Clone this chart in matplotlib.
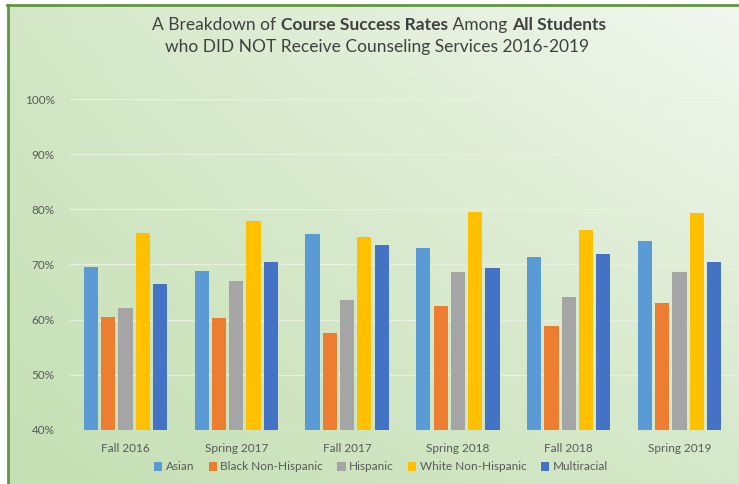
import numpy as np
import matplotlib
matplotlib.use("Agg")
import matplotlib.pyplot as plt
from matplotlib.lines import Line2D

categories = ["Fall 2016", "Spring 2017", "Fall 2017", "Spring 2018", "Fall 2018", "Spring 2019"]
series_names = ["Asian", "Black Non-Hispanic", "Hispanic", "White Non-Hispanic", "Multiracial"]
asian = [69.6, 68.9, 75.5, 73.0, 71.3, 74.2]
black = [60.4, 60.3, 57.5, 62.4, 58.9, 63.1]
hispanic = [62.1, 67.0, 63.5, 68.7, 64.1, 68.7]
white = [75.8, 77.8, 75.0, 79.5, 76.2, 79.3]
multiracial = [66.5, 70.4, 73.6, 69.4, 71.9, 70.4]
yticks = [40, 50, 60, 70, 80, 90, 100]

colors = ["#5B9BD5", "#ED7D31", "#A5A5A5", "#FFC000", "#4472C4"]
series = [asian, black, hispanic, white, multiracial]

FONT = "Lato"
plt.rcParams['font.family'] = [FONT, 'DejaVu Sans']

W, H = 739, 484
fig = plt.figure(figsize=(W / 100, H / 100), dpi=100)
fig.patch.set_facecolor("white")

# background gradient
bg = fig.add_axes([8 / W, 0, 1 - 8 / W, 1 - 5 / H])
bg.set_axis_off()
tl = np.array([0xd3, 0xe7, 0xc6]) / 255
tr = np.array([0xf2, 0xf7, 0xef]) / 255
bl = np.array([0xc5, 0xe0, 0xb4]) / 255
br = np.array([0xd5, 0xe8, 0xc9]) / 255
ny, nx = 60, 80
yy = np.linspace(0, 1, ny)[:, None, None]
xx = np.linspace(0, 1, nx)[None, :, None]
img = (1 - yy) * ((1 - xx) * tl + xx * tr) + yy * ((1 - xx) * bl + xx * br)
bg.imshow(img, aspect='auto', extent=[0, 1, 0, 1], interpolation='bilinear')
bg.set_xlim(0, 1)
bg.set_ylim(0, 1)

# border lines (left and top)
fig.add_artist(Line2D([8 / W, 8 / W], [0, 1 - 4.5 / H], color="#5f9641", lw=2.0, transform=fig.transFigure))
fig.add_artist(Line2D([7 / W, 1], [1 - 4.5 / H, 1 - 4.5 / H], color="#5f9641", lw=2.0, transform=fig.transFigure))

ax = fig.add_axes([70 / W, 54 / H, (735 - 70) / W, (430 - 99) / H])
ax.set_facecolor("none")
x = np.arange(len(categories))
spacing = 0.156
bw = 0.128
for i, (name, vals, c) in enumerate(zip(series_names, series, colors)):
    ax.bar(x + (i - 2) * spacing, vals, width=bw, color=c, label=name, zorder=3)

ax.set_ylim(40, 100)
ax.set_xlim(-0.5, len(categories) - 0.5)
ax.set_yticks(yticks)
ax.set_yticklabels([f"{t}%" for t in yticks])
ax.set_xticks(x)
ax.set_xticklabels(categories)
ax.tick_params(axis='both', length=0, labelsize=8.5, colors="#595959")
ax.tick_params(axis='y', pad=11)
ax.tick_params(axis='x', pad=9)
ax.grid(axis='y', color="#e8f0e2", lw=0.9, zorder=0)
for s in ax.spines.values():
    s.set_visible(False)
ax.axhline(40, color="#dde8d5", lw=0.9, zorder=1)

leg = fig.legend(loc='center', bbox_to_anchor=(381 / W, 1 - 467 / H), ncol=5, frameon=False,
                 fontsize=8.5, handlelength=0.7, handleheight=0.7, handletextpad=0.3,
                 columnspacing=1.2, labelcolor="#595959")

# Title with mixed weights
line1 = [("A Breakdown of ", "normal"), ("Course Success Rates", "bold"), (" Among ", "normal"), ("All Students", "bold")]
line2 = [("who DID NOT Receive Counseling Services 2016-2019", "normal")]
fig.canvas.draw()
r = fig.canvas.get_renderer()
def draw_line(parts, ycenter, xc):
    texts = []
    widths = []
    for s, w in parts:
        t = fig.text(0, ycenter, s, fontsize=12.5, fontweight=w, color="#404040", va='center', ha='left')
        texts.append(t)
    fig.canvas.draw()
    for t in texts:
        bb = t.get_window_extent(r)
        widths.append(bb.width)
    total = sum(widths)
    x0 = xc * W - total / 2
    for t, wdt in zip(texts, widths):
        t.set_x(x0 / W)
        x0 += wdt

draw_line(line1, 1 - 25 / H, 379 / W)
draw_line(line2, 1 - 47 / H, 377 / W)

fig.savefig("out.png", dpi=100, facecolor=fig.get_facecolor())
